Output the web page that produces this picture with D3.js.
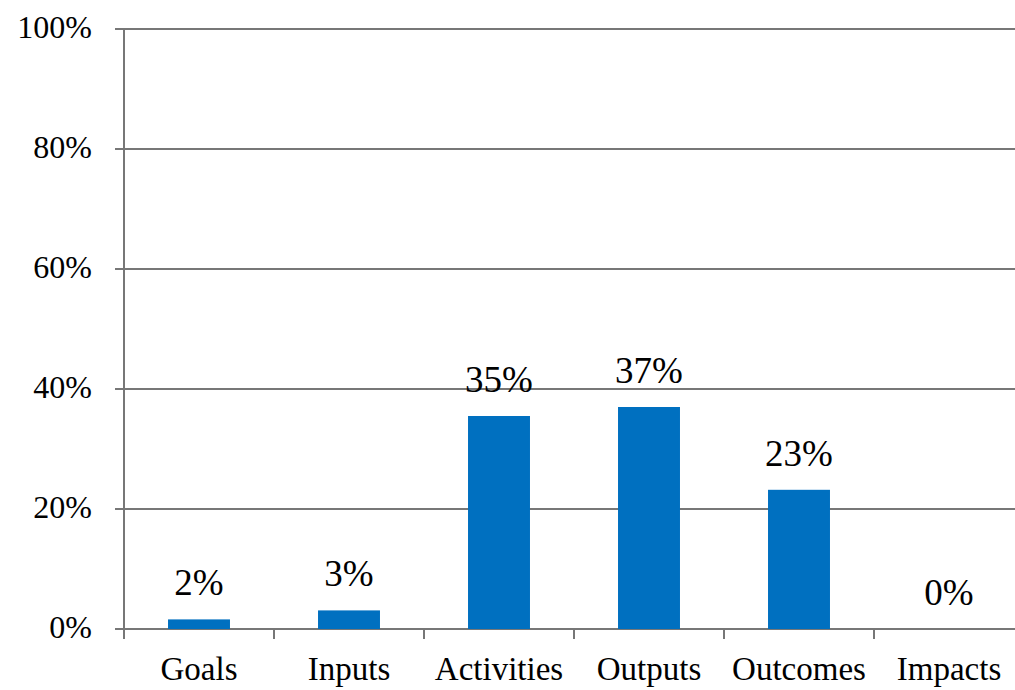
<!DOCTYPE html>
<html lang="en">
<head>
    <meta charset="UTF-8">
    <script src="https://d3js.org/d3.v7.min.js"></script>
    <title>Chart</title>
    <style>
        body {
            margin: 0;
            overflow: hidden;
            background: white;
        }

        text {
            font-family: "Liberation Serif", "DejaVu Serif", serif;
            fill: #000;
        }
    </style>
</head>
<body>
    <script>
        const categories = ["Goals", "Inputs", "Activities", "Outputs", "Outcomes", "Impacts"];
        const values = [0.016, 0.031, 0.355, 0.37, 0.232, 0];
        const valueLabels = ["2%", "3%", "35%", "37%", "23%", "0%"];
        const yTicks = [0, 0.2, 0.4, 0.6, 0.8, 1];

        const width = 1015,
              height = 690;

        const svg = d3.select('body')
            .append('svg')
            .attr('width', width)
            .attr('height', height);

        const margin = { top: 29, left: 124, bottom: 61 };

        const x = d3.scaleBand()
            .domain(categories)
            .range([margin.left, margin.left + 900])
            .paddingInner(0.587)
            .paddingOuter(0.2935);

        const y = d3.scaleLinear()
            .domain([0, 1])
            .range([height - margin.bottom, margin.top]);

        const gridColor = "#777";

        // horizontal gridlines
        svg.selectAll('line.grid')
            .data(yTicks)
            .enter()
            .append('line')
            .attr('class', 'grid')
            .attr('x1', margin.left - 9)
            .attr('x2', width)
            .attr('y1', d => y(d))
            .attr('y2', d => y(d))
            .attr('stroke', gridColor)
            .attr('stroke-width', 2);

        // y axis line
        svg.append('line')
            .attr('x1', margin.left)
            .attr('x2', margin.left)
            .attr('y1', y(1))
            .attr('y2', y(0) + 10)
            .attr('stroke', gridColor)
            .attr('stroke-width', 2);

        // x ticks between categories
        const step = x.step();
        const boundaries = d3.range(categories.length + 1).map(i => margin.left + i * step);
        svg.selectAll('line.xtick')
            .data(boundaries)
            .enter()
            .append('line')
            .attr('class', 'xtick')
            .attr('x1', d => d)
            .attr('x2', d => d)
            .attr('y1', y(0))
            .attr('y2', y(0) + 10)
            .attr('stroke', gridColor)
            .attr('stroke-width', 2);

        // y tick labels
        svg.selectAll('text.ylab')
            .data(yTicks)
            .enter()
            .append('text')
            .attr('class', 'ylab')
            .attr('x', margin.left - 32)
            .attr('y', d => y(d))
            .attr('dy', '0.28em')
            .attr('text-anchor', 'end')
            .style('font-size', '32px')
            .text(d => d3.format('.0%')(d));

        // bars
        svg.selectAll('rect.bar')
            .data(categories)
            .enter()
            .append('rect')
            .attr('class', 'bar')
            .attr('x', d => x(d))
            .attr('width', x.bandwidth())
            .attr('y', (d, i) => y(values[i]))
            .attr('height', (d, i) => y(0) - y(values[i]))
            .attr('fill', '#0070C0');

        // value labels
        svg.selectAll('text.vlab')
            .data(categories)
            .enter()
            .append('text')
            .attr('class', 'vlab')
            .attr('x', d => x(d) + x.bandwidth() / 2)
            .attr('y', (d, i) => y(values[i]) - 24)
            .attr('text-anchor', 'middle')
            .style('font-size', '37px')
            .text((d, i) => valueLabels[i]);

        // category labels
        svg.selectAll('text.xlab')
            .data(categories)
            .enter()
            .append('text')
            .attr('class', 'xlab')
            .attr('x', d => x(d) + x.bandwidth() / 2)
            .attr('y', y(0) + 51)
            .attr('text-anchor', 'middle')
            .style('font-size', '33px')
            .text(d => d);
    </script>
</body>
</html>
